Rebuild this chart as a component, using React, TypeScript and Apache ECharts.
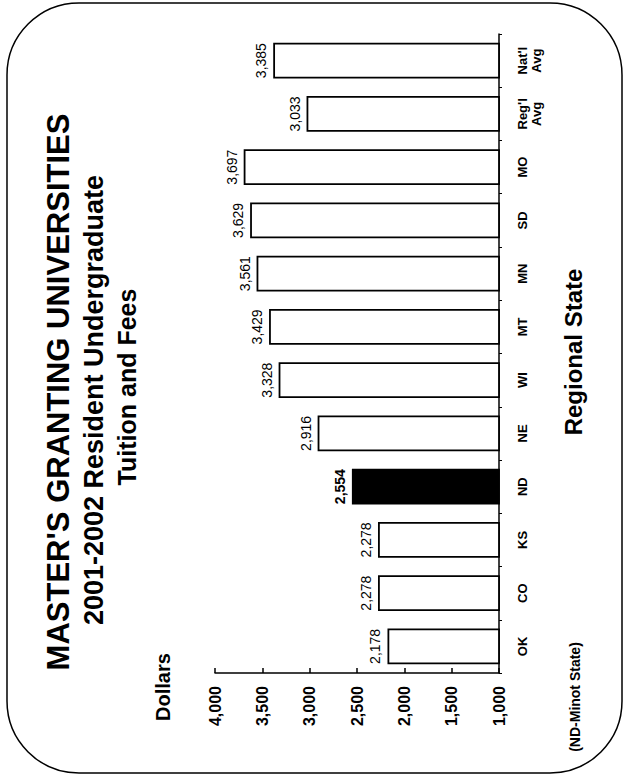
import React, { useEffect, useRef } from "react";
import * as echarts from "echarts";

const categories = ["OK", "CO", "KS", "ND", "NE", "WI", "MT", "MN", "SD", "MO", "Reg'l\nAvg", "Nat'l\nAvg"];
const tuition = [2178, 2278, 2278, 2554, 2916, 3328, 3429, 3561, 3629, 3697, 3033, 3385];
const highlightState = "ND";
const axisMin = 1000;
const axisMax = 4000;
const axisStep = 500;

const titleText = "MASTER'S GRANTING UNIVERSITIES";
const subtitleText = "2001-2002 Resident Undergraduate";
const subtitle2Text = "Tuition and Fees";
const valueAxisName = "Dollars";
const categoryAxisName = "Regional State";
const noteText = "(ND-Minot State)";

const FONT = "'Liberation Sans', Arial, sans-serif";
const fmt = (v: number) => v.toLocaleString("en-US");

export default function App() {
  const ref = useRef<HTMLDivElement>(null);
  useEffect(() => {
    document.body.style.margin = "0";
    const chart = echarts.init(ref.current!, undefined, { renderer: "svg" });
    const rot = Math.PI / 2;
    const txt = (text: string, x: number, y: number, size: number) => ({
      type: "text",
      x,
      y,
      rotation: rot,
      style: {
        text,
        fill: "#000",
        font: `bold ${size}px ${FONT}`,
        align: "center",
        verticalAlign: "middle",
      },
    });
    chart.setOption({
      animation: false,
      backgroundColor: "#fff",
      textStyle: { fontFamily: FONT },
      grid: { left: 215, right: 126, top: 34, bottom: 105, containLabel: false },
      xAxis: {
        type: "value",
        inverse: true,
        position: "bottom",
        min: axisMin,
        max: axisMax,
        interval: axisStep,
        splitLine: { show: false },
        axisLine: { show: true, lineStyle: { color: "#000", width: 1.5 } },
        axisTick: { show: true, inside: true, length: 5, lineStyle: { color: "#000", width: 1.5 } },
        axisLabel: {
          rotate: 90,
          margin: 13,
          color: "#000",
          fontWeight: "bold",
          fontSize: 16,
          fontFamily: FONT,
          formatter: (v: number) => fmt(v),
        },
      },
      yAxis: {
        type: "category",
        position: "right",
        data: categories,
        axisLine: { show: true, lineStyle: { color: "#000", width: 1.5 } },
        axisTick: { show: true, length: 3, lineStyle: { color: "#000", width: 1 } },
        axisLabel: {
          rotate: 90,
          margin: 16,
          color: "#000",
          fontWeight: "bold",
          fontSize: 13,
          lineHeight: 14,
          fontFamily: FONT,
        },
      },
      series: [
        {
          type: "bar",
          barCategoryGap: "33%",
          data: tuition.map((v, i) =>
            categories[i] === highlightState
              ? { value: v, itemStyle: { color: "#000" }, label: { fontWeight: "bold" } }
              : v
          ),
          itemStyle: { color: "#fff", borderColor: "#000", borderWidth: 1.8 },
          label: {
            show: true,
            position: "left",
            rotate: 90,
            align: "center",
            verticalAlign: "bottom",
            distance: 5,
            color: "#000",
            fontSize: 14,
            fontFamily: FONT,
            formatter: (p: any) => fmt(p.value),
          },
        },
      ],
      graphic: [
        {
          type: "rect",
          shape: { x: 7, y: 3, width: 615, height: 770, r: 72 },
          style: { fill: "none", stroke: "#000", lineWidth: 1.5 },
          silent: true,
        },
        txt(titleText, 58, 392, 31),
        txt(subtitleText, 94, 400, 27),
        txt(subtitle2Text, 127, 387, 25),
        txt(valueAxisName, 163, 687, 20),
        txt(categoryAxisName, 573, 352, 24),
        txt(noteText, 575, 697, 14),
      ],
    });
    return () => chart.dispose();
  }, []);
  return (
    <div
      ref={ref}
      style={{ position: "absolute", left: 0, top: 0, width: 625, height: 778, background: "#fff" }}
    />
  );
}
